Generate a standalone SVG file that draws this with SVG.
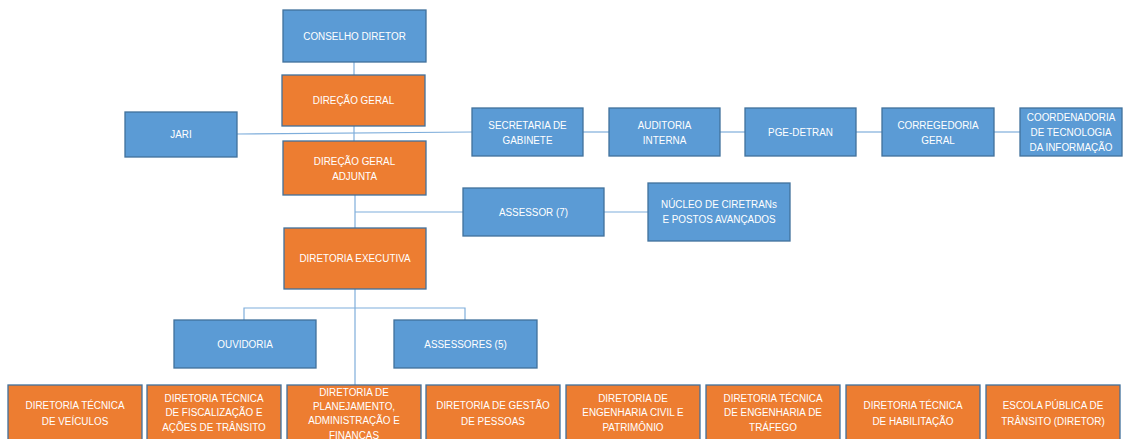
<svg xmlns="http://www.w3.org/2000/svg" width="1125" height="439" viewBox="0 0 1125 439">
<style>
.b{fill:#5B9BD5;stroke:#41719C;stroke-width:1.3}
.o{fill:#ED7D31;stroke:#41719C;stroke-width:1.3}
text{font-family:"Liberation Sans",Arial,sans-serif;font-size:11.5px;fill:#ffffff;text-anchor:middle;transform:scaleX(0.86);transform-box:fill-box;transform-origin:center}
.c line,.c polyline{stroke:#7FAEDB;stroke-width:1.2;fill:none}
</style>
<rect width="1125" height="439" fill="#ffffff"/>
<g class="c" id="connectors">
<line x1="354" y1="62" x2="354" y2="75"/>
<line x1="354" y1="126" x2="354" y2="141"/>
<line x1="237" y1="134" x2="472" y2="132"/>
<line x1="583" y1="132" x2="609" y2="132"/>
<line x1="720" y1="132" x2="745" y2="132"/>
<line x1="856" y1="132" x2="882" y2="132"/>
<line x1="994" y1="132" x2="1020" y2="132"/>
<line x1="355" y1="195" x2="355" y2="228"/>
<line x1="355" y1="212" x2="463" y2="212"/>
<line x1="604" y1="212" x2="648" y2="212"/>
<line x1="355" y1="289" x2="355" y2="385"/>
<polyline points="244,320 244,308 465,308 465,320"/>
</g>
<g id="conselho"><rect class="b" x="283" y="10" width="143" height="52"/><text x="354.5" y="40">CONSELHO DIRETOR</text></g>
<g id="direcao-geral"><rect class="o" x="282" y="75" width="143" height="51"/><text x="353.5" y="104.5">DIREÇÃO GERAL</text></g>
<g id="jari"><rect class="b" x="125" y="112" width="112" height="45"/><text x="181" y="138.5">JARI</text></g>
<g id="dga"><rect class="o" x="283" y="141" width="143" height="54"/><text x="354.5" y="165">DIREÇÃO GERAL</text><text x="354.5" y="180">ADJUNTA</text></g>
<g id="secretaria"><rect class="b" x="472" y="108" width="111" height="48"/><text x="527.5" y="129">SECRETARIA DE</text><text x="527.5" y="144">GABINETE</text></g>
<g id="auditoria"><rect class="b" x="609" y="108" width="111" height="48"/><text x="664.5" y="129">AUDITORIA</text><text x="664.5" y="144">INTERNA</text></g>
<g id="pge"><rect class="b" x="745" y="108" width="111" height="48"/><text x="800.5" y="136">PGE-DETRAN</text></g>
<g id="corregedoria"><rect class="b" x="882" y="108" width="112" height="48"/><text x="938" y="129">CORREGEDORIA</text><text x="938" y="144">GERAL</text></g>
<g id="coordenadoria"><rect class="b" x="1020" y="108" width="102" height="48"/><text x="1071" y="121">COORDENADORIA</text><text x="1071" y="136">DE TECNOLOGIA</text><text x="1071" y="151">DA INFORMAÇÃO</text></g>
<g id="assessor7"><rect class="b" x="463" y="188" width="141" height="48"/><text x="533.5" y="216">ASSESSOR (7)</text></g>
<g id="nucleo"><rect class="b" x="648" y="183" width="142" height="58"/><text x="719" y="208">NÚCLEO DE CIRETRANs</text><text x="719" y="223">E POSTOS AVANÇADOS</text></g>
<g id="diretoria-executiva"><rect class="o" x="284" y="228" width="142" height="61"/><text x="355" y="262">DIRETORIA EXECUTIVA</text></g>
<g id="ouvidoria"><rect class="b" x="174" y="320" width="142" height="48"/><text x="245" y="348">OUVIDORIA</text></g>
<g id="assessores5"><rect class="b" x="394" y="320" width="143" height="48"/><text x="465.5" y="348">ASSESSORES (5)</text></g>
<g id="d1"><rect class="o" x="8" y="385" width="134" height="62"/><text x="75" y="409">DIRETORIA TÉCNICA</text><text x="75" y="425">DE VEÍCULOS</text></g>
<g id="d2"><rect class="o" x="147" y="385" width="134" height="62"/><text x="214" y="402">DIRETORIA TÉCNICA</text><text x="214" y="416.5">DE FISCALIZAÇÃO E</text><text x="214" y="431">AÇÕES DE TRÂNSITO</text></g>
<g id="d3"><rect class="o" x="287" y="385" width="134" height="62"/><text x="354" y="396">DIRETORIA DE</text><text x="354" y="410">PLANEJAMENTO,</text><text x="354" y="424.5">ADMINISTRAÇÃO E</text><text x="354" y="439">FINANÇAS</text></g>
<g id="d4"><rect class="o" x="426" y="385" width="134" height="62"/><text x="493" y="409">DIRETORIA DE GESTÃO</text><text x="493" y="425">DE PESSOAS</text></g>
<g id="d5"><rect class="o" x="566" y="385" width="134" height="62"/><text x="633" y="402">DIRETORIA DE</text><text x="633" y="416.5">ENGENHARIA CIVIL E</text><text x="633" y="431">PATRIMÔNIO</text></g>
<g id="d6"><rect class="o" x="706" y="385" width="134" height="62"/><text x="773" y="402">DIRETORIA TÉCNICA</text><text x="773" y="416.5">DE ENGENHARIA DE</text><text x="773" y="431">TRÁFEGO</text></g>
<g id="d7"><rect class="o" x="846" y="385" width="134" height="62"/><text x="913" y="409">DIRETORIA TÉCNICA</text><text x="913" y="425">DE HABILITAÇÃO</text></g>
<g id="d8"><rect class="o" x="986" y="385" width="134" height="62"/><text x="1053" y="409">ESCOLA PÚBLICA DE</text><text x="1053" y="425">TRÂNSITO (DIRETOR)</text></g>
</svg>
